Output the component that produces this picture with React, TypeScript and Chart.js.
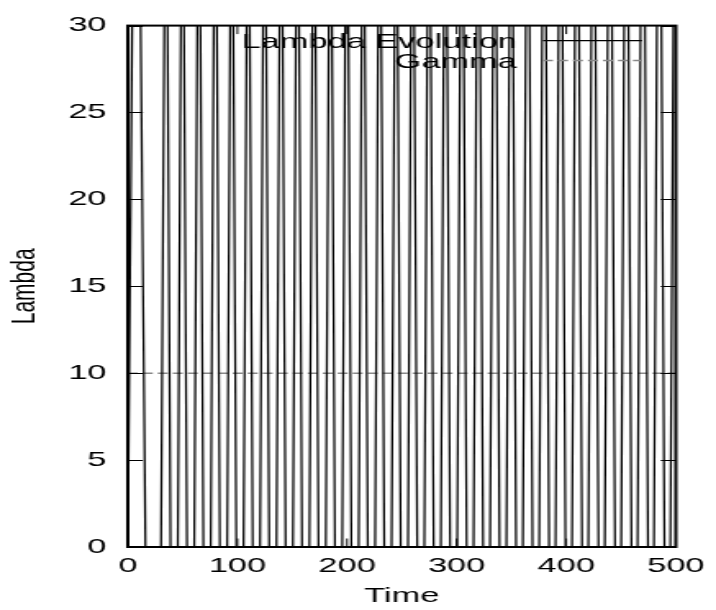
import { useEffect, useRef } from "react";
import { Chart, registerables } from "chart.js";

Chart.register(...registerables);

// Axis ticks
const timeTicks = [0, 100, 200, 300, 400, 500];
const lambdaTicks = [0, 5, 10, 15, 20, 25, 30];

// Lambda evolution: turning points of the oscillation (time, value)
const lambdaTimes = [
  0, 7.6, 24.6, 34.8, 42.3, 49.8, 57.3, 64.8, 72.3, 79.8, 87.3, 94.8, 102.3,
  109.8, 117.3, 124.8, 132.3, 139.8, 147.3, 154.8, 162.3, 169.8, 177.3, 184.8,
  192.3, 199.8, 207.3, 214.8, 222.3, 229.8, 237.3, 244.8, 252.3, 259.8, 267.3,
  274.8, 282.3, 289.8, 297.3, 304.8, 312.3, 319.8, 327.3, 334.8, 342.3, 349.8,
  357.3, 364.8, 372.3, 379.8, 387.3, 394.8, 402.3, 409.8, 417.3, 424.8, 432.3,
  439.8, 447.3, 454.8, 462.3, 469.8, 477.3, 484.8, 492.3, 499.8,
];
const lambdaValues = [
  0, 58, -58, 46, -37, 46, -37, 46, -37, 46, -37, 46, -37,
  46, -37, 46, -37, 46, -37, 46, -37, 46, -37, 46,
  -37, 46, -37, 46, -37, 46, -37, 46, -37, 47, -36,
  47, -36, 47, -36, 48, -35, 48, -35, 48, -35, 49,
  -34, 49, -34, 50, -33, 50, -33, 51, -32, 51, -32,
  52, -31, 52, -31, 53, -30, 53, -30, 53,
];

// Gamma: constant reference level
const gammaTimes = [0, 500];
const gammaValues = [10, 10];

// The canvas is drawn narrow and widened by CSS, giving the wide glyphs
const STRETCH = 1.6384;
const CANVAS_W = 437;
const CANVAS_H = 610;

const FONT_FAMILY = '"Liberation Sans", Arial, Helvetica, sans-serif';
const font = { family: FONT_FAMILY, size: 21 };

const framePlugin = {
  id: "gnuplotFrame",
  afterDatasetsDraw(chart: any) {
    const { ctx, chartArea } = chart;
    const { left, right, top, bottom } = chartArea;
    const xs = chart.scales.x;
    const ys = chart.scales.y;
    ctx.save();
    ctx.strokeStyle = "#000";
    ctx.setLineDash([]);
    // inward tick marks on all four sides
    ctx.lineWidth = 1;
    const yLen = 9.2;
    const xLen = 8.5;
    ctx.beginPath();
    for (const v of lambdaTicks) {
      const py = Math.round(ys.getPixelForValue(v)) + 0.5;
      ctx.moveTo(left, py);
      ctx.lineTo(left + yLen, py);
      ctx.moveTo(right, py);
      ctx.lineTo(right - yLen, py);
    }
    for (const v of timeTicks) {
      const px = xs.getPixelForValue(v);
      ctx.moveTo(px, bottom);
      ctx.lineTo(px, bottom - xLen);
      ctx.moveTo(px, top);
      ctx.lineTo(px, top + xLen);
    }
    ctx.stroke();
    // border
    ctx.lineWidth = 2;
    ctx.strokeRect(left, top, right - left, bottom - top);

    // key, upper right: right-aligned text followed by a line sample
    const textRight = 315.5;
    const sampleL = 331.4;
    const sampleR = 391.8;
    const rows = [40, 60];
    ctx.font = `21px ${FONT_FAMILY}`;
    ctx.fillStyle = "#000";
    ctx.textAlign = "right";
    ctx.textBaseline = "alphabetic";
    chart.data.datasets.forEach((ds: any, i: number) => {
      const y = rows[i];
      ctx.fillText(ds.label, textRight, y + 7.5);
      ctx.strokeStyle = ds.borderColor;
      ctx.lineWidth = ds.borderWidth;
      ctx.setLineDash(ds.borderDash || []);
      ctx.beginPath();
      ctx.moveTo(sampleL, y + 0.5);
      ctx.lineTo(sampleR, y + 0.5);
      ctx.stroke();
    });
    ctx.restore();
  },
};

export default function App() {
  const ref = useRef<HTMLCanvasElement>(null);

  useEffect(() => {
    const canvas = ref.current;
    if (!canvas) return;
    const chart = new Chart(canvas, {
      type: "line",
      data: {
        datasets: [
          {
            label: "Lambda Evolution",
            data: lambdaTimes.map((t, i) => ({ x: t, y: lambdaValues[i] })),
            borderColor: "#000000",
            borderWidth: 1.25,
            pointRadius: 0,
            tension: 0,
            fill: false,
          },
          {
            label: "Gamma",
            data: gammaTimes.map((t, i) => ({ x: t, y: gammaValues[i] })),
            borderColor: "#888888",
            borderWidth: 1.4,
            borderDash: [6.1, 3.05],
            pointRadius: 0,
            tension: 0,
            fill: false,
          },
        ],
      },
      options: {
        responsive: false,
        animation: false,
        devicePixelRatio: 1,
        layout: { padding: { top: 21, right: 19.5, left: 0, bottom: 0 } },
        plugins: {
          legend: { display: false },
          tooltip: { enabled: false },
        },
        scales: {
          x: {
            type: "linear",
            min: 0,
            max: 500,
            afterBuildTicks: (s: any) => {
              s.ticks = timeTicks.map((v) => ({ value: v }));
            },
            afterFit: (s: any) => {
              s.height = 63;
            },
            grid: { display: false, drawTicks: false },
            border: { display: false },
            ticks: { font, color: "#000", padding: 7, maxRotation: 0, autoSkip: false },
            title: {
              display: true,
              text: "Time",
              font,
              color: "#000",
              padding: { top: 0, bottom: 1 },
            },
          },
          y: {
            type: "linear",
            min: 0,
            max: 30,
            afterBuildTicks: (s: any) => {
              s.ticks = lambdaTicks.map((v) => ({ value: v }));
            },
            afterFit: (s: any) => {
              s.width = 78;
            },
            grid: { display: false, drawTicks: false },
            border: { display: false },
            ticks: { font, color: "#000", padding: 13, autoSkip: false },
            title: {
              display: true,
              text: "Lambda",
              font,
              color: "#000",
              padding: { top: 3, bottom: 0 },
            },
          },
        },
      },
      plugins: [framePlugin],
    });
    return () => chart.destroy();
  }, []);

  return (
    <div style={{ position: "absolute", left: 0, top: 0 }}>
      <canvas
        ref={ref}
        width={CANVAS_W}
        height={CANVAS_H}
        style={{ width: `${Math.round(CANVAS_W * STRETCH)}px`, height: `${CANVAS_H}px`, display: "block" }}
      />
    </div>
  );
}
